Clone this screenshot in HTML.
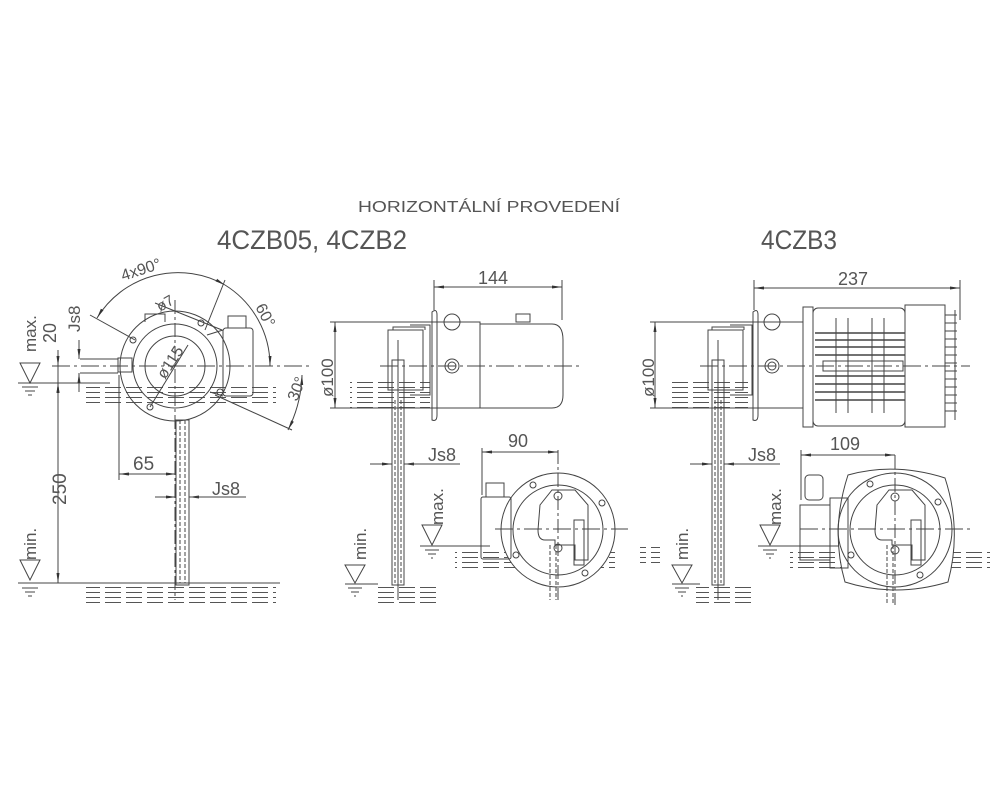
<!DOCTYPE html>
<html><head><meta charset="utf-8"><style>
html,body{margin:0;padding:0;background:#fff}
svg{display:block}
text{font-family:"Liberation Sans",sans-serif;fill:#555}
</style></head><body>
<svg width="1000" height="800" viewBox="0 0 1000 800" xmlns="http://www.w3.org/2000/svg">
<defs>
<pattern id="h" x="0" y="0" width="21" height="5" patternUnits="userSpaceOnUse">
<line x1="0" y1="2.5" x2="16" y2="2.5" stroke="#555" stroke-width="1"/>
</pattern>
<marker id="a" markerWidth="10" markerHeight="6" refX="10" refY="3" orient="auto-start-reverse" markerUnits="userSpaceOnUse">
<path d="M0,1.5 L10,3 L0,4.5z" fill="#333"/></marker>
</defs>
<text x="358" y="212" font-size="16" textLength="262" lengthAdjust="spacingAndGlyphs">HORIZONTÁLNÍ PROVEDENÍ</text>
<text x="217" y="249" font-size="27" textLength="190" lengthAdjust="spacingAndGlyphs">4CZB05, 4CZB2</text>
<text x="761" y="249" font-size="27" textLength="76" lengthAdjust="spacingAndGlyphs">4CZB3</text>

<g fill="none" stroke="#444" stroke-width="1">
<!-- ===== LEFT VIEW ===== -->
<rect x="86" y="384" width="190" height="22" fill="url(#h)" stroke="none"/>
<rect x="86" y="587" width="190" height="18" fill="url(#h)" stroke="none"/>
<line x1="18" y1="383" x2="110" y2="383"/>
<line x1="18" y1="583" x2="280" y2="583"/>
<line x1="52" y1="366" x2="310" y2="366" stroke-dasharray="18,4,3,4"/>
<path d="M20,363 L40,363 L30,383z"/>
<path d="M20,560 L40,560 L30,580z"/>
<path d="M22,387 h16 M25,391 h10 M28,395 h4 M22,588 h16 M25,592 h10 M28,596 h4"/>
<circle cx="175" cy="366" r="55"/>
<circle cx="175" cy="366" r="42"/>
<circle cx="175" cy="366" r="30"/>
<path d="M145,322 v-8 h20 v8"/>
<rect x="118" y="358" width="14" height="14"/>
<line x1="80" y1="359" x2="118" y2="359"/><line x1="80" y1="373" x2="118" y2="373"/>
<rect x="223" y="328" width="30" height="68" rx="3"/>
<rect x="228" y="316" width="18" height="12"/>
<path d="M207,335 L223,330 M210,392 L223,396"/>
<rect x="176" y="420" width="13" height="165"/>
<line x1="180" y1="420" x2="180" y2="583" stroke-dasharray="4,2"/>
<line x1="185" y1="420" x2="185" y2="583" stroke-dasharray="4,2"/>
<line x1="175" y1="300" x2="175" y2="600" stroke-dasharray="14,3,3,3"/>
<line x1="58" y1="366" x2="58" y2="583"/>
<line x1="58" y1="350" x2="58" y2="366" marker-end="url(#a)"/>
<line x1="58" y1="398" x2="58" y2="383" marker-end="url(#a)"/>
<line x1="58" y1="383" x2="58" y2="583" marker-start="url(#a)" marker-end="url(#a)"/>
<line x1="79" y1="340" x2="79" y2="359" marker-end="url(#a)"/>
<line x1="79" y1="392" x2="79" y2="373" marker-end="url(#a)"/>
<line x1="119" y1="375" x2="119" y2="480"/>
<line x1="119" y1="474" x2="176" y2="474" marker-start="url(#a)" marker-end="url(#a)"/>
<line x1="155" y1="497" x2="176" y2="497" marker-end="url(#a)"/>
<line x1="210" y1="497" x2="189" y2="497" marker-end="url(#a)"/>
<line x1="189" y1="497" x2="246" y2="497"/>
<path d="M97,318 A95,95 0 0 1 225,285" marker-start="url(#a)" marker-end="url(#a)"/>
<path d="M225,285 A95,95 0 0 1 270,366" marker-end="url(#a)"/>
<path d="M302,375 A130,130 0 0 1 288,430" marker-start="url(#a)" marker-end="url(#a)"/>
<line x1="90" y1="315" x2="135" y2="340"/>
<line x1="225" y1="280" x2="205" y2="330"/>
<line x1="215" y1="395" x2="292" y2="430"/>
<line x1="155" y1="303" x2="222" y2="330"/>
<line x1="150" y1="407" x2="188" y2="345"/>
<circle cx="133" cy="340" r="3"/><circle cx="201" cy="323" r="3"/><circle cx="150" cy="407" r="3"/><circle cx="220" cy="392" r="3"/>

<!-- ===== MIDDLE VIEW ===== -->
<rect x="350" y="380" width="80" height="30" fill="url(#h)" stroke="none"/>
<rect x="378" y="585" width="60" height="20" fill="url(#h)" stroke="none"/>
<line x1="330" y1="408" x2="440" y2="408"/>
<line x1="330" y1="322" x2="440" y2="322"/>
<line x1="380" y1="366" x2="580" y2="366" stroke-dasharray="18,4,3,4"/>
<line x1="335" y1="322" x2="335" y2="408" marker-start="url(#a)" marker-end="url(#a)"/>
<line x1="434" y1="310" x2="434" y2="280"/><line x1="562" y1="320" x2="562" y2="280"/>
<line x1="434" y1="287" x2="562" y2="287" marker-start="url(#a)" marker-end="url(#a)"/>
<path d="M432,312 Q437,308 437,315 V415 Q437,422 432,420 Z"/>
<path d="M388,330 h35 v60 h-35 z M393,330 v-3 h32 v3"/>
<path d="M410,325 h20 v70 h-20"/>
<path d="M440,322 H480 V408 H440"/>
<path d="M480,324 H552 Q563,324 563,340 V395 Q563,408 552,408 H480"/>
<circle cx="452" cy="322" r="8"/><circle cx="452" cy="366" r="7"/><circle cx="452" cy="366" r="4"/>
<rect x="516" y="314" width="14" height="8"/>
<rect x="392" y="360" width="12" height="225"/>
<line x1="395" y1="400" x2="395" y2="583" stroke-dasharray="4,2"/>
<line x1="401" y1="400" x2="401" y2="583" stroke-dasharray="4,2"/>
<line x1="398" y1="340" x2="398" y2="600"/>
<line x1="370" y1="464" x2="392" y2="464" marker-end="url(#a)"/>
<line x1="425" y1="464" x2="404" y2="464" marker-end="url(#a)"/>
<line x1="404" y1="464" x2="460" y2="464"/>
<path d="M345,565 L365,565 L355,583z"/><line x1="345" y1="584" x2="378" y2="584"/>
<path d="M348,588 h14 M351,592 h8 M354,596 h2"/>
<path d="M422,525 L442,525 L432,545z"/><line x1="420" y1="546" x2="490" y2="546"/>
<path d="M425,550 h14 M428,554 h8 M431,558 h2"/>
<rect x="455" y="550" width="160" height="22" fill="url(#h)" stroke="none"/>
<circle cx="558" cy="530" r="57" fill="#fff"/>
<circle cx="558" cy="530" r="45"/>
<line x1="495" y1="529" x2="628" y2="529" stroke-dasharray="18,4,3,4"/>
<line x1="558" y1="450" x2="558" y2="600" stroke-dasharray="14,3,3,3"/>
<path d="M540,505 L552,490 H575 L588,505 V560 H575 V545 H555 V540 H545 Q538,540 538,530 Z"/>
<rect x="574" y="520" width="10" height="45"/>
<rect x="481" y="497" width="30" height="62" rx="2"/>
<rect x="486" y="483" width="18" height="14"/>
<line x1="550" y1="545" x2="550" y2="600" stroke-dasharray="4,2"/><line x1="556" y1="545" x2="556" y2="600" stroke-dasharray="4,2"/>
<line x1="482" y1="495" x2="482" y2="448"/>
<line x1="482" y1="452" x2="558" y2="452" marker-start="url(#a)" marker-end="url(#a)"/>
<circle cx="558" cy="496" r="4"/><circle cx="558" cy="548" r="4"/>
<circle cx="533" cy="485" r="3"/><circle cx="602" cy="503" r="3"/><circle cx="516" cy="555" r="3"/><circle cx="585" cy="573" r="3"/>

<!-- ===== RIGHT VIEW ===== -->
<rect x="668" y="380" width="80" height="30" fill="url(#h)" stroke="none"/>
<rect x="696" y="585" width="60" height="20" fill="url(#h)" stroke="none"/>
<line x1="650" y1="408" x2="760" y2="408"/>
<line x1="650" y1="322" x2="760" y2="322"/>
<line x1="700" y1="366" x2="970" y2="366" stroke-dasharray="18,4,3,4"/>
<line x1="655" y1="322" x2="655" y2="408" marker-start="url(#a)" marker-end="url(#a)"/>
<line x1="754" y1="310" x2="754" y2="280"/><line x1="960" y1="320" x2="960" y2="280"/>
<line x1="754" y1="288" x2="960" y2="288" marker-start="url(#a)" marker-end="url(#a)"/>
<path d="M753,312 Q758,308 758,315 V415 Q758,422 753,420 Z"/>
<path d="M708,330 h35 v60 h-35 z M712,330 v-3 h32 v3"/>
<path d="M730,325 h22 v70 h-22"/>
<path d="M758,322 H803 V408 H758"/>
<circle cx="772" cy="322" r="8"/><circle cx="772" cy="366" r="7"/><circle cx="772" cy="366" r="4"/>
<rect x="803" y="307" width="10" height="120"/>
<rect x="813" y="308" width="92" height="118" rx="5"/>
<rect x="905" y="305" width="40" height="122"/>
<path d="M945,315 h12 M945,323 h12 M945,331 h12 M945,339 h12 M945,347 h12 M945,355 h12 M945,363 h12 M945,371 h12 M945,379 h12 M945,387 h12 M945,395 h12 M945,403 h12 M945,411 h12"/>
<line x1="955" y1="310" x2="955" y2="420"/>
<path d="M815,333 h90 M815,340 h90 M815,347 h90 M815,355 h90 M815,376 h90 M815,384 h90 M815,392 h90 M815,400 h90" stroke-width="1.5"/>
<rect x="823" y="361" width="80" height="10"/>
<path d="M836,318 v95 M848,318 v95 M872,318 v95 M884,318 v95"/>
<rect x="712" y="360" width="12" height="225"/>
<line x1="715" y1="400" x2="715" y2="583" stroke-dasharray="4,2"/>
<line x1="721" y1="400" x2="721" y2="583" stroke-dasharray="4,2"/>
<line x1="718" y1="340" x2="718" y2="600"/>
<line x1="690" y1="464" x2="712" y2="464" marker-end="url(#a)"/>
<line x1="745" y1="464" x2="724" y2="464" marker-end="url(#a)"/>
<line x1="724" y1="464" x2="780" y2="464"/>
<path d="M672,565 L692,565 L682,583z"/><line x1="672" y1="584" x2="700" y2="584"/>
<path d="M675,588 h14 M678,592 h8 M681,596 h2"/>
<rect x="640" y="545" width="20" height="22" fill="url(#h)" stroke="none"/>
<path d="M760,525 L780,525 L770,545z"/><line x1="758" y1="546" x2="840" y2="546"/>
<path d="M763,550 h14 M766,554 h8 M769,558 h2"/>
<rect x="790" y="550" width="200" height="22" fill="url(#h)" stroke="none"/>
<path d="M848,475 Q895,462 945,478 Q962,530 948,582 Q895,598 845,582 Q830,530 848,475 Z" fill="#fff"/>
<circle cx="895" cy="530" r="57"/>
<circle cx="895" cy="530" r="45"/>
<line x1="800" y1="529" x2="970" y2="529" stroke-dasharray="18,4,3,4"/>
<line x1="895" y1="455" x2="895" y2="605" stroke-dasharray="14,3,3,3"/>
<path d="M877,505 L889,490 H912 L925,505 V560 H912 V545 H892 V540 H882 Q875,540 875,530 Z"/>
<rect x="911" y="520" width="10" height="45"/>
<rect x="800" y="505" width="30" height="55"/>
<rect x="830" y="498" width="18" height="70"/>
<rect x="805" y="475" width="18" height="25" rx="4"/>
<line x1="887" y1="545" x2="887" y2="605" stroke-dasharray="4,2"/><line x1="893" y1="545" x2="893" y2="605" stroke-dasharray="4,2"/>
<line x1="801" y1="500" x2="801" y2="450"/>
<line x1="801" y1="455" x2="895" y2="455" marker-start="url(#a)" marker-end="url(#a)"/>
<circle cx="895" cy="497" r="4"/><circle cx="895" cy="550" r="4"/>
<circle cx="870" cy="484" r="3"/><circle cx="938" cy="502" r="3"/><circle cx="851" cy="555" r="3"/><circle cx="920" cy="575" r="3"/>
</g>

<g font-size="17">
<text transform="translate(36,352) rotate(-90)">max.</text>
<text transform="translate(56,343) rotate(-90)" font-size="18">20</text>
<text transform="translate(80,332) rotate(-90)">Js8</text>
<text transform="translate(66,505) rotate(-90)" font-size="19">250</text>
<text transform="translate(36,560) rotate(-90)">min.</text>
<text x="133" y="470" font-size="19">65</text>
<text x="212" y="495" font-size="18">Js8</text>
<text transform="translate(123,281) rotate(-18)" font-size="16">4x90°</text>
<text transform="translate(255,307) rotate(62)" font-size="16">60°</text>
<text transform="translate(297,402) rotate(-68)" font-size="16">30°</text>
<text transform="translate(160,312) rotate(-30)" font-size="15">ø7</text>
<text transform="translate(165,380) rotate(-57)" font-size="16">ø115</text>

<text x="478" y="284" font-size="18">144</text>
<text transform="translate(333,397) rotate(-90)" font-size="17">ø100</text>
<text x="428" y="461" font-size="18">Js8</text>
<text x="508" y="447" font-size="18">90</text>
<text transform="translate(443,525) rotate(-90)">max.</text>
<text transform="translate(366,560) rotate(-90)">min.</text>

<text x="838" y="285" font-size="18">237</text>
<text transform="translate(654,397) rotate(-90)" font-size="17">ø100</text>
<text x="748" y="461" font-size="18">Js8</text>
<text x="830" y="450" font-size="18">109</text>
<text transform="translate(781,525) rotate(-90)">max.</text>
<text transform="translate(688,560) rotate(-90)">min.</text>
</g>
</svg>
</body></html>
